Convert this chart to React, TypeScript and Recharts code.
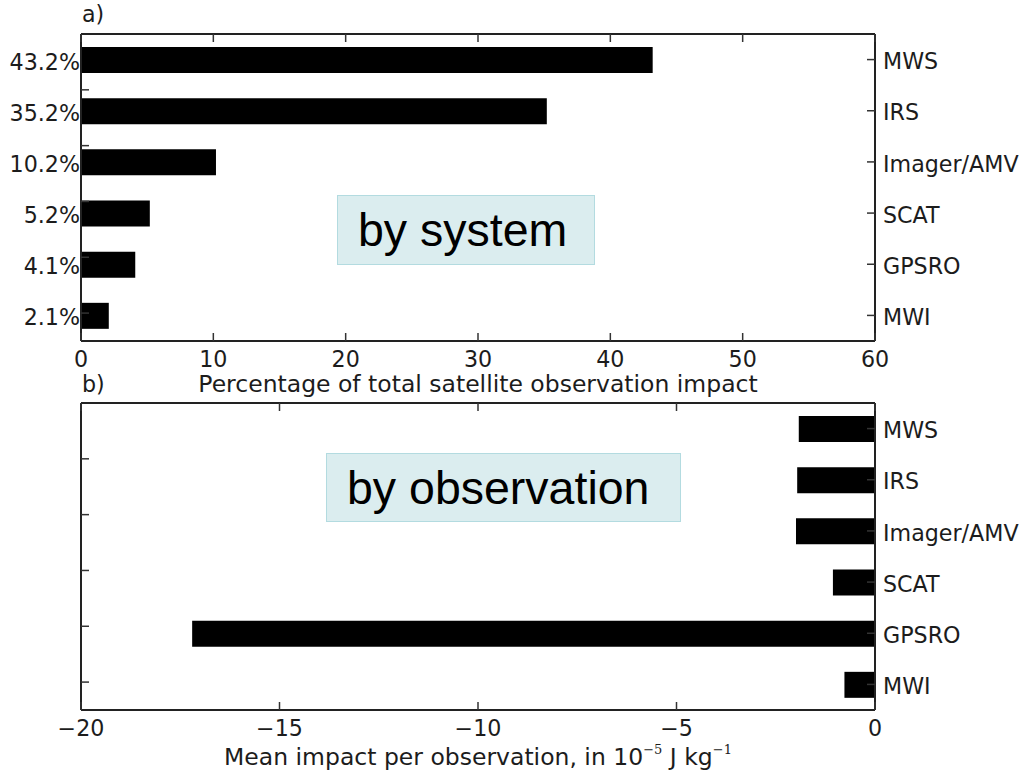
import React from 'react';
import { BarChart, Bar, XAxis, YAxis, LabelList } from 'recharts';

const categories = ['MWS', 'IRS', 'Imager/AMV', 'SCAT', 'GPSRO', 'MWI'];
const shareOfImpact = [43.2, 35.2, 10.2, 5.2, 4.1, 2.1];
const impactPerObs = [-1.92, -1.96, -1.99, -1.06, -17.2, -0.77];
const shareTicks = [0, 10, 20, 30, 40, 50, 60];
const perObsTicks = [-20, -15, -10, -5, 0];
const frameTicks = [1, 2, 3, 4, 5];

const dataA = categories.map((name, i) => ({ name, value: shareOfImpact[i] }));
const dataB = categories.map((name, i) => ({ name, value: impactPerObs[i] }));

const FONT = 'DejaVu Sans';
const TXT = '#1c1c1c';
const FS = 22.2;
const TFS = 23.5;
const TICK_LEN = 8;
const axisLine = { stroke: '#222', strokeWidth: 2 };

const fmtNum = (v: number) => (v < 0 ? '\u2212' + Math.abs(v) : String(v));

const BottomTick = (props: any) => {
  const { x, y, payload } = props;
  return (
    <g>
      <line x1={x} x2={x} y1={y} y2={y - TICK_LEN} stroke="#333" strokeWidth={1.5} />
      <text x={x} y={y + 26} textAnchor="middle" fontFamily={FONT} fontSize={FS} fill={TXT}>
        {fmtNum(payload.value)}
      </text>
    </g>
  );
};

const TopTick = (props: any) => {
  const { x, y } = props;
  return <line x1={x} x2={x} y1={y} y2={y + TICK_LEN} stroke="#333" strokeWidth={1.5} />;
};

const LeftTick = (props: any) => {
  const { x, y } = props;
  return <line x1={x} x2={x + TICK_LEN} y1={y} y2={y} stroke="#333" strokeWidth={1.5} />;
};

const RightTick = (props: any) => {
  const { x, y, payload } = props;
  return (
    <g>
      <line x1={x} x2={x - TICK_LEN} y1={y} y2={y} stroke="#333" strokeWidth={1.5} />
      <text x={x + 8} y={y + 1.5} dy="0.365em" textAnchor="start" fontFamily={FONT} fontSize={FS} fill={TXT}>
        {payload.value}
      </text>
    </g>
  );
};

const PctLabel = (props: any) => {
  const { x, y, height, value } = props;
  return (
    <text x={x - 1} y={y + height / 2 + 1.5} dy="0.365em" textAnchor="end" fontFamily={FONT} fontSize={FS} fill={TXT}>
      {Number(value).toFixed(1) + '%'}
    </text>
  );
};

const titleA = (props: any) => {
  const vb = props.viewBox || {};
  return (
    <text x={vb.x + vb.width / 2} y={vb.y + 51} textAnchor="middle" fontFamily={FONT} fontSize={TFS} fill={TXT}>
      Percentage of total satellite observation impact
    </text>
  );
};

const titleB = (props: any) => {
  const vb = props.viewBox || {};
  return (
    <text x={vb.x + vb.width / 2} y={vb.y + 55} textAnchor="middle" fontFamily={FONT} fontSize={TFS} fill={TXT}>
      Mean impact per observation, in 10
      <tspan dy={-11} fontSize={13} fontFamily="DejaVu Serif">{'\u22125'}</tspan>
      <tspan dy={11}> J kg</tspan>
      <tspan dy={-11} fontSize={13} fontFamily="DejaVu Serif">{'\u22121'}</tspan>
    </text>
  );
};

const boxStyle: React.CSSProperties = {
  position: 'absolute',
  boxSizing: 'border-box',
  background: '#dbedef',
  border: '1.5px solid #b3dbe0',
  fontFamily: '"Liberation Sans", Arial, sans-serif',
  fontSize: 46.5,
  color: '#000',
  display: 'flex',
  alignItems: 'center',
  paddingLeft: 20,
  whiteSpace: 'nowrap',
};

function Panel(props: {
  data: { name: string; value: number }[];
  domain: [number, number];
  ticks: number[];
  height: number;
  top: number;
  axisH: number;
  title: any;
  pct: boolean;
}) {
  const { data, domain, ticks, height, top, axisH, title, pct } = props;
  return (
    <BarChart width={1025} height={height} data={data} layout="vertical" margin={{ top, right: 0, bottom: 0, left: 81 }}>
      <XAxis xAxisId="bottom" type="number" domain={domain} ticks={ticks} orientation="bottom" height={axisH}
        axisLine={axisLine} tickLine={false} tickSize={0} tickMargin={0} tick={BottomTick} interval={0} label={title} />
      <XAxis xAxisId="top" type="number" domain={domain} ticks={ticks} orientation="top" mirror
        axisLine={axisLine} tickLine={false} tickSize={0} tickMargin={0} tick={TopTick} allowDataOverflow interval={0} />
      <YAxis yAxisId="frame" type="number" dataKey="value" orientation="left" mirror domain={[0, 5.5]} ticks={frameTicks}
        axisLine={axisLine} tickLine={false} tickSize={0} tickMargin={0} tick={LeftTick} allowDataOverflow interval={0} />
      <YAxis yAxisId="cat" type="category" dataKey="name" orientation="right" width={150}
        axisLine={axisLine} tickLine={false} tickSize={0} tickMargin={0} tick={RightTick} interval={0} />
      <Bar xAxisId="bottom" yAxisId="cat" dataKey="value" fill="#000" barSize={26} isAnimationActive={false}>
        {pct ? <LabelList dataKey="value" content={PctLabel} /> : null}
      </Bar>
    </BarChart>
  );
}

export default function App() {
  return (
    <div style={{ position: 'absolute', left: 0, top: 0, width: 1025, height: 771, background: '#fff', overflow: 'hidden' }}>
      <div style={{ position: 'absolute', left: 0, top: 0 }}>
        <Panel data={dataA} domain={[0, 60]} ticks={shareTicks} height={400} top={34} axisH={59} title={titleA} pct />
      </div>
      <div style={{ position: 'absolute', left: 0, top: 400 }}>
        <Panel data={dataB} domain={[-20, 0]} ticks={perObsTicks} height={371} top={3} axisH={61} title={titleB} pct={false} />
      </div>
      <svg width={1025} height={771} style={{ position: 'absolute', left: 0, top: 0, pointerEvents: 'none' }}>
        <text x={82} y={22} fontFamily={FONT} fontSize={FS} fill={TXT}>a)</text>
        <text x={82} y={392} fontFamily={FONT} fontSize={FS} fill={TXT}>b)</text>
      </svg>
      <div style={{ ...boxStyle, left: 337, top: 195, width: 258, height: 70 }}>by system</div>
      <div style={{ ...boxStyle, left: 326, top: 453, width: 355, height: 69 }}>by observation</div>
    </div>
  );
}
